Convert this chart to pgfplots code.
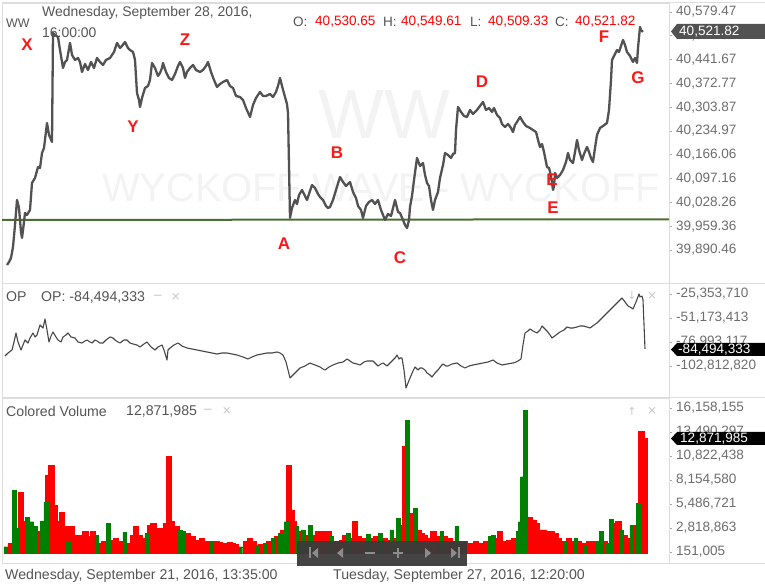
\documentclass[border=0pt]{standalone}
\usepackage{pgfplots}
\pgfplotsset{compat=1.18}
\usepackage{pgfplotstable}
\usepackage{fontspec}
\setmainfont{Liberation Sans}
\newfontfamily\djv{DejaVu Sans}
\definecolor{txtgray}{RGB}{85,85,85}
\definecolor{tickgray}{RGB}{110,110,110}
\definecolor{framegray}{RGB}{221,221,221}
\definecolor{tickmark}{RGB}{170,170,170}
\definecolor{pricegray}{RGB}{82,82,82}
\definecolor{opgray}{RGB}{70,70,70}
\definecolor{supgreen}{RGB}{75,110,50}
\definecolor{volred}{RGB}{255,0,0}
\definecolor{volgreen}{RGB}{0,128,0}
\definecolor{lblred}{RGB}{250,25,25}
\definecolor{wm}{RGB}{243,243,243}
\definecolor{navgray}{RGB}{58,58,58}
\definecolor{navicon}{RGB}{140,140,140}
\definecolor{lightic}{RGB}{200,200,200}

\pgfplotstableread{
x p
7 39847.04
9 39855.72
11 39867.30
13 39899.15
15 39962.84
17 40035.21
19 40012.05
21 39942.57
22 39925.20
24 39971.52
25 39997.58
27 39991.79
30 40006.26
32 40084.42
35 40098.90
38 40130.75
40 40127.85
42 40171.28
44 40185.75
47 40258.13
49 40223.39
52 40203.12
53 40518.68
55 40512.89
58 40507.10
60 40469.46
63 40417.35
65 40434.72
67 40440.51
70 40489.73
72 40454.99
75 40440.51
78 40446.30
80 40434.72
82 40405.77
85 40428.93
88 40411.56
91 40434.72
94 40417.35
97 40446.30
100 40434.72
103 40426.04
106 40440.51
110 40446.30
114 40463.67
117 40489.73
120 40475.25
122 40481.04
125 40492.62
128 40475.25
130 40469.46
133 40463.67
135 40440.51
137 40344.98
139 40324.71
140 40304.45
142 40330.50
145 40359.45
148 40365.24
150 40382.61
152 40431.83
155 40417.35
158 40394.19
160 40402.88
162 40417.35
163 40431.83
166 40405.77
169 40388.40
172 40382.61
175 40399.98
178 40423.14
180 40434.72
183 40417.35
185 40388.40
187 40405.77
190 40417.35
193 40426.04
196 40411.56
200 40405.77
203 40411.56
206 40423.14
208 40434.72
211 40405.77
214 40382.61
217 40362.35
220 40371.03
223 40376.82
227 40382.61
230 40365.24
233 40359.45
236 40336.29
240 40333.40
243 40324.71
246 40301.55
250 40275.50
253 40310.24
256 40330.50
260 40347.87
263 40336.29
266 40336.29
270 40342.08
273 40333.40
276 40347.87
278 40365.24
280 40388.40
282 40365.24
285 40333.40
287 40313.13
288 40287.08
290 39983.10
292 40012.05
295 40035.21
297 40023.63
299 40049.68
302 40064.16
305 40046.79
307 40035.21
309 40052.58
312 40078.64
315 40069.95
318 40052.58
320 40043.89
323 40035.21
326 40017.84
328 40012.05
330 40014.94
333 40035.21
336 40064.16
340 40101.80
343 40087.32
346 40075.74
350 40087.32
353 40058.37
356 40041.00
358 40017.84
361 40006.26
363 39983.10
366 40017.84
369 40029.42
372 40035.21
375 40023.63
378 40035.21
381 40006.26
385 39977.31
388 39994.68
391 39988.89
395 40035.21
398 40000.47
400 39997.58
403 39977.31
405 39962.84
407 39954.15
409 39977.31
410 40014.94
412 40046.79
414 40093.11
417 40156.80
420 40133.64
423 40142.33
425 40107.59
427 40084.42
429 40075.74
431 40035.21
433 40006.26
435 40035.21
438 40058.37
440 40098.90
443 40136.54
445 40171.28
448 40165.49
451 40156.80
453 40168.38
455 40171.28
456 40237.86
458 40304.45
461 40289.97
464 40278.39
467 40275.50
470 40295.76
473 40284.18
477 40295.76
480 40307.34
483 40318.92
486 40295.76
489 40301.55
492 40289.97
494 40301.55
497 40281.29
500 40272.60
502 40255.23
505 40246.55
508 40255.23
511 40243.65
513 40232.07
515 40252.34
517 40261.02
520 40275.50
523 40261.02
526 40249.44
530 40243.65
533 40237.86
536 40232.07
538 40208.91
540 40188.65
542 40197.33
544 40174.17
547 40130.75
549 40127.85
551 40104.69
553 40064.16
554 40075.74
555 40113.38
557 40098.90
560 40107.59
563 40122.06
566 40145.22
568 40171.28
570 40151.01
573 40142.33
575 40174.17
577 40208.91
579 40179.96
582 40151.01
584 40168.38
587 40188.65
589 40174.17
591 40156.80
593 40145.22
595 40185.75
597 40223.39
600 40243.65
603 40249.44
607 40258.13
609 40295.76
611 40382.61
612 40440.51
614 40452.09
617 40469.46
619 40463.67
621 40481.04
623 40498.41
625 40483.94
627 40463.67
630 40452.09
633 40434.72
635 40446.30
637 40431.83
638 40475.25
640 40536.05
641 40527.36
643 40521.82
}\pricedata

\pgfplotstableread{
x op
5 -92.05
8 -88.83
12 -85.60
14 -76.99
16 -67.31
18 -76.99
21 -85.60
23 -80.22
25 -74.84
28 -78.07
30 -72.69
33 -67.31
35 -71.61
37 -69.46
40 -58.70
43 -61.93
45 -52.25
47 -64.08
49 -76.99
51 -70.54
53 -66.23
56 -71.61
58 -74.84
61 -76.99
63 -71.61
66 -69.46
68 -67.31
71 -71.61
75 -72.69
78 -76.99
82 -78.07
85 -75.92
87 -74.84
90 -76.99
92 -78.07
95 -74.84
97 -75.92
100 -78.07
103 -78.07
106 -74.84
110 -71.61
113 -72.69
115 -74.84
118 -76.99
120 -78.07
124 -74.84
127 -74.84
130 -78.07
133 -79.14
137 -80.22
140 -82.37
144 -79.14
147 -76.99
151 -82.37
155 -85.60
158 -82.37
162 -80.22
164 -85.60
167 -96.36
168 -85.60
170 -83.45
174 -80.22
178 -78.07
182 -81.30
187 -83.45
192 -84.52
197 -85.60
202 -86.68
207 -87.75
212 -88.83
217 -89.90
222 -88.83
227 -88.83
232 -89.90
237 -90.98
243 -93.13
248 -95.28
252 -93.13
257 -90.98
262 -89.90
267 -88.83
272 -88.83
277 -87.75
280 -88.83
283 -90.98
286 -98.51
290 -115.72
292 -113.57
295 -110.34
298 -107.12
300 -104.96
305 -102.81
310 -99.59
315 -101.74
320 -103.89
323 -106.04
325 -107.12
329 -103.89
333 -101.74
338 -99.59
343 -98.51
347 -95.28
350 -97.43
353 -99.59
357 -100.66
360 -101.74
364 -98.51
367 -97.43
370 -97.43
373 -97.43
376 -100.66
378 -102.81
381 -100.66
383 -99.59
387 -102.81
390 -99.59
392 -97.43
395 -94.21
397 -90.98
399 -95.28
400 -94.21
402 -94.21
404 -107.12
406 -126.48
408 -121.10
410 -115.72
413 -108.19
415 -103.89
418 -107.12
420 -104.96
422 -104.96
425 -107.12
427 -110.34
430 -112.49
432 -114.65
435 -110.34
438 -107.12
441 -102.81
443 -100.66
446 -102.81
448 -102.81
452 -100.66
457 -99.59
461 -102.81
465 -104.96
469 -102.81
473 -101.74
478 -100.66
483 -99.59
488 -98.51
493 -96.36
497 -99.59
502 -101.74
507 -100.66
513 -99.59
516 -98.51
518 -97.43
521 -95.28
523 -80.22
525 -67.31
528 -65.16
530 -63.01
533 -65.16
537 -67.31
540 -64.08
542 -59.78
545 -63.01
547 -65.16
550 -69.46
552 -72.69
556 -69.46
560 -66.23
564 -64.08
567 -60.86
570 -61.93
573 -61.93
577 -60.86
580 -59.78
583 -59.78
587 -60.86
590 -61.93
594 -58.70
597 -56.55
601 -52.25
605 -47.95
609 -43.64
613 -39.34
617 -35.04
620 -31.81
622 -29.66
625 -33.96
628 -38.26
630 -39.34
633 -41.49
636 -33.96
639 -25.35
640 -28.58
642 -27.51
643 -31.81
645 -84.49
}\opdata

\pgfplotstableread{
x v
5.7 0.74
14.3 7.04
17.2 2.78
27.5 3.97
31.7 3.52
35 2.97
42.5 3.60
45.8 5.67
68.3 1.30
96.7 2.04
108.3 3.34
124.7 2.34
146.7 2.23
180 2.60
183.3 2.41
211 1.30
240.8 0.74
256.7 0.93
265 1.11
273.3 1.67
280 2.23
286.2 3.52
296.7 2.97
303.3 2.60
310 3.15
331.7 1.86
348.3 2.23
368.3 2.11
380 2.23
391.7 2.60
398.3 3.89
407.2 14.82
415 5.00
441.7 2.48
456.7 2.97
490 1.86
493.3 2.04
518 2.41
520.5 3.52
522.5 8.52
525 15.93
565.7 1.30
575.7 1.67
585.3 0.93
598.3 1.37
601.3 2.41
607.7 1.11
611.3 3.82
621.7 2.60
631.7 3.08
638.3 5.56
}\volgreen

\pgfplotstableread{
x v
10.5 1.11
20.5 6.78
23.8 3.52
38.3 2.41
48 8.71
51.3 9.75
55 5.37
58.3 3.52
62 4.56
65.3 2.97
71.7 2.97
75 2.04
78.3 2.04
81.7 1.86
85.3 2.41
89 1.86
92.8 2.41
100 1.11
104 1.30
111.7 1.48
115.8 1.67
120.5 1.30
129 1.11
133.3 2.04
136 2.97
139.5 2.04
143.3 1.67
150 3.15
153.3 3.34
156.7 2.78
160 2.41
163.3 2.78
165.8 3.34
168.7 10.75
171.7 3.52
173.8 2.78
176.7 2.97
187.5 2.23
192.5 1.86
197.5 1.48
202 1.67
206.2 1.30
216.7 1.30
220 1.20
223.3 1.11
226.7 1.15
230 1.22
233 1.10
235.8 1.00
245.8 1.30
250 1.67
253.3 1.30
260.8 1.00
269 1.30
276.7 1.86
283.3 2.60
288.7 9.75
291.3 4.82
293.8 3.52
300 2.41
306.7 2.04
313.3 2.04
317.5 2.41
321.7 2.41
325 1.86
328.3 2.41
335 1.30
338.3 1.30
341.7 1.48
345 2.04
351.7 1.67
355 3.52
358.3 1.86
361.7 1.67
365 1.67
371.7 1.67
375.8 1.86
384.2 1.67
388.3 1.48
395 1.67
401.7 3.15
404.7 11.86
409.5 4.45
412 3.71
418.3 2.60
421.7 2.23
425 2.04
429.2 1.67
433.3 2.41
437.5 1.86
445 1.86
449.2 1.67
453.3 1.37
460 1.30
464.2 1.30
468.3 1.11
471.7 1.11
475.8 1.30
480.8 1.11
485.8 1.30
496.7 1.67
500 2.41
504.2 1.30
509.2 1.48
514.2 1.67
529.2 3.97
533.3 3.71
536.7 3.34
540 2.60
543.8 2.60
548 2.41
551.7 2.48
555.3 2.23
559 1.67
562.3 1.30
569 1.67
572.3 1.30
579 1.30
582.3 1.11
589.2 1.37
594.2 1.30
604.3 1.37
615 3.34
618.3 3.52
625 2.04
628.3 1.67
635 3.15
641.3 13.52
644.3 12.78
}\volred

\pgfplotsset{panel/.style={
  scale only axis, width=667bp, xmin=2, xmax=669,
  anchor=south west,
  axis line style={framegray, line width=0.8bp},
  xtick=\empty, ytick pos=right, yticklabel pos=right,
  tick align=outside, major tick length=3bp,
  major tick style={tickmark, line width=0.6bp},
  yticklabel style={font=\fontsize{13.6}{15}\selectfont, text=tickgray, anchor=west, inner sep=0pt, xshift=4bp},
  clip=true,
}}

\begin{document}
\begin{tikzpicture}
\path[use as bounding box] (0,0) rectangle (765bp,587bp);
\fill[white] (0,0) rectangle (765bp,587bp);
% watermarks
\node[text=wm, font=\fontsize{70}{70}\selectfont] at (384bp,472bp) {WW};
\node[text=wm, font=\fontsize{40}{40}\selectfont] at (381bp,399bp) {WYCKOFF WAVE - WYCKOFF};

% ---------- price panel
\begin{axis}[panel, at={(2bp,304bp)}, height=280bp,
  ymin=39794.9, ymax=40605.5,
  ytick={40579.47,40510.57,40441.67,40372.77,40303.87,40234.97,40166.06,40097.16,40028.26,39959.36,39890.46},
  yticklabels={{40,579.47},{40,510.57},{40,441.67},{40,372.77},{40,303.87},{40,234.97},{40,166.06},{40,097.16},{40,028.26},{39,959.36},{39,890.46}}]
\addplot[supgreen, line width=2bp] coordinates {(2,39977.3) (669,39979.3)};
\addplot[pricegray, line width=2.3bp, line join=round] table[x=x,y=p]{\pricedata};
\end{axis}

% ---------- OP panel
\begin{axis}[panel, at={(2bp,190bp)}, height=114bp,
  ymin=-136.16, ymax=-13.52,
  ytick={-25.353710,-51.173413,-76.993117,-102.812820},
  yticklabels={{-25,353,710},{-51,173,413},{-76,993,117},{-102,812,820}}]
\addplot[opgray, line width=1.1bp, line join=round] table[x=x,y=op]{\opdata};
\end{axis}

% ---------- volume panel
\begin{axis}[panel, at={(2bp,24bp)}, height=165bp,
  ymin=-1.07, ymax=17.27,
  ytick={16.158155,13.490297,10.822438,8.154580,5.486721,2.818863,0.151005},
  yticklabels={{16,158,155},{13,490,297},{10,822,438},{8,154,580},{5,486,721},{2,818,863},{151,005}}]
\addplot[ybar, bar width=5.2bp, bar shift=0pt, fill=volred, draw=volred, line width=0.5bp] table[x=x,y=v]{\volred};
\addplot[ybar, bar width=3.8bp, bar shift=0pt, fill=volgreen, draw=volgreen, line width=0.4bp] table[x=x,y=v]{\volgreen};
\end{axis}

% separators spanning the full width
\draw[framegray, line width=0.8bp] (2bp,585bp) -- (765bp,585bp);
\draw[framegray, line width=0.8bp] (2bp,304bp) -- (765bp,304bp);
\draw[framegray, line width=0.8bp] (2bp,190bp) -- (765bp,190bp);
\draw[framegray, line width=0.8bp] (2bp,24bp) -- (765bp,24bp);

% current value boxes
\fill[pricegray] (671bp,555.5bp) -- (677bp,563bp) -- (765bp,563bp) -- (765bp,548bp) -- (677bp,548bp) -- cycle;
\node[anchor=west, inner sep=0pt, text=white, font=\fontsize{13.6}{15}\selectfont] at (679bp,555.5bp) {40,521.82};
\fill[black] (671bp,237.5bp) -- (677bp,244bp) -- (765bp,244bp) -- (765bp,231bp) -- (677bp,231bp) -- cycle;
\node[anchor=west, inner sep=0pt, text=white, font=\fontsize{13.6}{15}\selectfont] at (678bp,237.5bp) {-84,494,333};
\fill[black] (671bp,148.5bp) -- (677bp,155bp) -- (765bp,155bp) -- (765bp,142bp) -- (677bp,142bp) -- cycle;
\node[anchor=west, inner sep=0pt, text=white, font=\fontsize{13.6}{15}\selectfont] at (680bp,148.5bp) {12,871,985};

% header
\node[anchor=west, inner sep=0pt, text=txtgray, font=\fontsize{12.5}{14}\selectfont] at (6bp,564bp) {WW};
\node[anchor=west, inner sep=0pt, text=txtgray, font=\fontsize{14}{16}\selectfont] at (42bp,574bp) {Wednesday, September 28, 2016,};
\node[anchor=west, inner sep=0pt, text=txtgray, font=\fontsize{14}{16}\selectfont] at (42bp,554bp) {16:00:00};
\begin{scope}[every node/.style={anchor=west, inner sep=0pt, font=\fontsize{13.6}{16}\selectfont}]
\node[text=txtgray] at (293bp,565bp) {O:};
\node[text=red] at (315bp,565bp) {40,530.65};
\node[text=txtgray] at (383bp,565bp) {H:};
\node[text=red] at (401bp,565bp) {40,549.61};
\node[text=txtgray] at (470bp,565bp) {L:};
\node[text=red] at (488bp,565bp) {40,509.33};
\node[text=txtgray] at (555bp,565bp) {C:};
\node[text=red] at (575bp,565bp) {40,521.82};
\end{scope}

% wave labels
\begin{scope}[every node/.style={text=lblred, font=\fontsize{17}{17}\selectfont\bfseries, inner sep=0pt}]
\node at (27bp,542bp) {X};
\node at (133bp,460bp) {Y};
\node at (185bp,547bp) {Z};
\node at (284bp,343bp) {A};
\node at (337bp,434bp) {B};
\node at (400bp,329bp) {C};
\node at (482bp,505bp) {D};
\node at (552bp,407bp) {E};
\node at (553bp,379bp) {E};
\node at (604bp,550bp) {F};
\node at (638bp,509bp) {G};
\end{scope}

% OP panel titles
\node[anchor=west, inner sep=0pt, text=txtgray, font=\fontsize{14.2}{16}\selectfont] at (6bp,290bp) {OP};
\node[anchor=west, inner sep=0pt, text=txtgray, font=\fontsize{14.2}{16}\selectfont] at (41bp,290bp) {OP: -84,494,333};
\node[inner sep=0pt, text=lightic, font=\djv\fontsize{12}{14}\selectfont] at (158bp,290bp) {−};
\node[inner sep=0pt, text=lightic, font=\djv\fontsize{12}{14}\selectfont] at (176bp,290bp) {×};
\node[inner sep=0pt, text=lightic, font=\djv\fontsize{11}{13}\selectfont] at (632bp,291bp) {↓};
\node[inner sep=0pt, text=lightic, font=\djv\fontsize{12}{14}\selectfont] at (652bp,291bp) {×};

% Volume panel titles
\node[anchor=west, inner sep=0pt, text=txtgray, font=\fontsize{14.2}{16}\selectfont] at (6bp,176bp) {Colored Volume};
\node[anchor=west, inner sep=0pt, text=txtgray, font=\fontsize{14.2}{16}\selectfont] at (126bp,176bp) {12,871,985};
\node[inner sep=0pt, text=lightic, font=\djv\fontsize{12}{14}\selectfont] at (208bp,176bp) {−};
\node[inner sep=0pt, text=lightic, font=\djv\fontsize{12}{14}\selectfont] at (227bp,176bp) {×};
\node[inner sep=0pt, text=lightic, font=\djv\fontsize{11}{13}\selectfont] at (632bp,176bp) {↑};
\node[inner sep=0pt, text=lightic, font=\djv\fontsize{12}{14}\selectfont] at (652bp,176bp) {×};

% navigation bar
\fill[navgray, opacity=0.95] (297bp,21bp) rectangle (467bp,46bp);
\begin{scope}[navicon]
\fill (309bp,28.5bp) rectangle (310.8bp,39.5bp);
\fill (312bp,34bp) -- (318bp,39bp) -- (318bp,29bp) -- cycle;
\fill (337bp,34bp) -- (343bp,39bp) -- (343bp,29bp) -- cycle;
\fill (365bp,33.2bp) rectangle (375bp,35bp);
\fill (393bp,33.2bp) rectangle (403bp,35bp);
\fill (397.1bp,29bp) rectangle (398.9bp,39bp);
\fill (425bp,29bp) -- (425bp,39bp) -- (431bp,34bp) -- cycle;
\fill (451bp,29bp) -- (451bp,39bp) -- (457bp,34bp) -- cycle;
\fill (458.2bp,28.5bp) rectangle (460bp,39.5bp);
\end{scope}

% date row
\node[anchor=west, inner sep=0pt, text=txtgray, font=\fontsize{14.2}{16}\selectfont] at (5bp,11bp) {Wednesday, September 21, 2016, 13:35:00};
\node[anchor=west, inner sep=0pt, text=txtgray, font=\fontsize{14.2}{16}\selectfont] at (333bp,11bp) {Tuesday, September 27, 2016, 12:20:00};
\end{tikzpicture}
\end{document}
